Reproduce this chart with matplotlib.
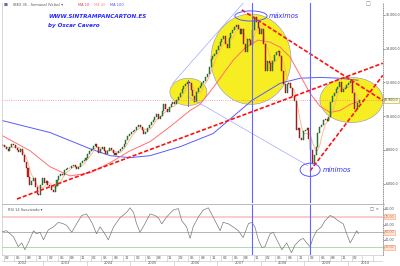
import matplotlib
matplotlib.use('Agg')
import matplotlib.pyplot as plt
from matplotlib.patches import Ellipse
from matplotlib.ticker import FuncFormatter
import numpy as np
import pandas as pd

# IBEX 35, closes every half month, 2002 .. March 2010
c2002 = [8300, 8200, 8050, 7950, 8150, 8350, 8300, 8100, 8000, 7850, 8050, 7700,
         7300, 6900, 6400, 5900, 6150, 6350, 5800, 5400, 5350, 5900, 6350, 6050]
c2003 = [6150, 5900, 5850, 5650, 5500, 5850, 6200, 6450, 6550, 6500, 6800, 6850,
         6950, 6900, 7050, 7100, 7000, 6850, 7000, 7250, 7350, 7400, 7550, 7730]
c2004 = [7950, 8050, 8250, 8350, 8200, 7800, 8050, 8150, 7950, 7750, 7950, 8100,
         8000, 7800, 7700, 7800, 7950, 8050, 8150, 8350, 8600, 8800, 8950, 9080]
c2005 = [9150, 9200, 9350, 9450, 9350, 9200, 8950, 9050, 9300, 9500, 9650, 9750,
         9950, 10100, 9850, 10000, 10300, 10700, 10450, 10250, 10550, 10700, 10850, 10730]
c2006 = [10950, 11150, 11400, 11600, 11800, 11900, 12050, 11950, 11550, 11200, 10850, 11450,
         11650, 11800, 11950, 12100, 12300, 12500, 12900, 13400, 13550, 13700, 13950, 14150]
c2007 = [14400, 14550, 14750, 14300, 14050, 14650, 14950, 15100, 15300, 15400, 15150, 14900,
         15150, 14300, 13800, 14600, 14500, 14250, 15100, 15900, 15600, 15250, 14900, 15180]
c2008 = [14300, 12700, 13300, 13150, 12700, 13250, 13600, 13800, 13850, 13550, 12700, 11900,
         11400, 11900, 11950, 11700, 11200, 10900, 9200, 9300, 8700, 8600, 9100, 9200]
c2009 = [9300, 8650, 8000, 7150, 7700, 8150, 9000, 9350, 9500, 9800, 9850, 9700,
         9950, 10850, 11200, 11400, 11600, 11750, 12050, 11450, 11600, 11650, 11850, 11940]
c2010 = [12100, 11350, 10400, 10450, 10800, 10950]
closes = np.array(c2002 + c2003 + c2004 + c2005 + c2006 + c2007 + c2008 + c2009 + c2010, float)

# slow moving averages
ma_red_t = [2002.05, 2002.69, 2003.15, 2003.61, 2004.07, 2004.53, 2004.99, 2005.45, 2005.91,
            2006.37, 2006.60, 2006.94, 2007.36, 2007.63, 2007.93, 2008.21, 2008.44, 2008.67,
            2008.90, 2009.13, 2009.36, 2009.59, 2009.82, 2010.05, 2010.23]
ma_red_v = [8850, 7950, 7000, 6460, 6640, 7240, 7950, 8490, 9380,
            10340, 10700, 11830, 13320, 14030, 14510, 14390, 14090, 13500,
            12420, 11350, 10580, 10220, 10340, 10700, 10870]
ma_blue_t = [2002.05, 2003.15, 2004.07, 2004.53, 2004.99, 2005.45, 2006.14, 2006.90,
             2007.79, 2008.44, 2008.90, 2009.36, 2009.82, 2010.23]
ma_blue_v = [9740, 9030, 8070, 7660, 7540, 7660, 8190, 8970,
             10930, 11950, 12250, 12300, 12250, 12130]

# RSI 14 suavizado
rsi_t = [2002.00, 2002.15, 2002.31, 2002.42, 2002.50, 2002.57, 2002.65, 2002.77, 2002.84, 2002.92,
         2003.00, 2003.11, 2003.23, 2003.34, 2003.46, 2003.53, 2003.65, 2003.76, 2003.88, 2003.99,
         2004.11, 2004.22, 2004.30, 2004.41, 2004.49, 2004.61, 2004.76, 2004.91, 2004.99,
         2005.07, 2005.14, 2005.22, 2005.33, 2005.45, 2005.56, 2005.64, 2005.72, 2005.83, 2005.98,
         2006.10, 2006.18, 2006.29, 2006.37, 2006.44, 2006.56, 2006.67, 2006.79, 2006.90,
         2007.06, 2007.13, 2007.25, 2007.36, 2007.48, 2007.59, 2007.71, 2007.79, 2007.86, 2007.94,
         2008.02, 2008.09, 2008.21, 2008.28, 2008.40, 2008.48, 2008.59, 2008.70, 2008.78, 2008.90, 2008.97,
         2009.05, 2009.13, 2009.20, 2009.28, 2009.39, 2009.47, 2009.59, 2009.66, 2009.78, 2009.89, 2009.97,
         2010.05, 2010.12, 2010.20, 2010.24]
rsi_v = [50, 52, 44, 31, 36, 27, 36, 52, 48, 50,
         40, 53, 57, 63, 61, 59, 50, 61, 72, 74,
         63, 48, 57, 48, 40, 57, 69, 76, 82,
         76, 61, 50, 61, 74, 72, 69, 61, 70, 79,
         81, 65, 57, 42, 57, 70, 79, 82, 70,
         52, 63, 61, 57, 52, 43, 61, 63, 57, 40,
         30, 31, 48, 50, 36, 27, 36, 23, 33, 40, 42,
         36, 31, 43, 52, 57, 65, 72, 70, 65, 61, 48,
         36, 43, 52, 48]

# drawn annotations (date, level)
trend_red = [((2002.39, 5090), (2010.80, 13140)),
             ((2007.56, 16300), (2010.80, 10930)),
             ((2009.13, 6760), (2010.80, 12420))]
trend_thin = [((2005.97, 11950), (2007.59, 16700)),
              ((2006.32, 11170), (2009.08, 7060))]
yellow = [(2006.33, 11440, 0.85, 1610), (2007.77, 13380, 1.84, 5360), (2010.08, 10960, 1.45, 2680)]
blue_rings = [(2007.77, 15940, 0.74, 600, 'máximos'), (2009.13, 6820, 0.46, 780, 'mínimos')]
vlines = [2007.79, 2009.13]
price_ticks = [6000, 8000, 10000, 12000, 14000, 16000]
rsi_levels = [80, 70, 60, 50, 40, 30]
months = ['02', '05', '08', '11']

t = 2002.06 + np.arange(len(closes)) / 24
opens = np.r_[closes[0], closes[:-1]]
ma_fast = pd.Series(closes).rolling(5, min_periods=1).mean()
xlim = (2002.046, 2010.805)


def es(v, nd=1):
    return f"{v:,.{nd}f}".replace(',', 'X').replace('.', ',').replace('X', '.')


fig = plt.figure(figsize=(4, 2.66), dpi=100)
ax = fig.add_axes([0.005, 0.237, 0.9525, 0.752])
ar = fig.add_axes([0.005, 0.041, 0.9525, 0.192])
ad = fig.add_axes([0.005, 0.0, 0.9525, 0.041])

for a in (ax, ar):
    a.set_xlim(*xlim)
    a.set_xticks([])
    a.yaxis.tick_right()
    for s in ('top', 'bottom'):
        a.spines[s].set_visible(False)
    a.spines['left'].set_color('#c8c8c8')
    a.spines['left'].set_linewidth(0.5)
    a.spines['right'].set_color('#888888')
    a.spines['right'].set_linestyle(':')
    a.spines['right'].set_linewidth(0.6)
    a.tick_params(axis='y', length=1.2, width=0.4, pad=0.6, labelsize=2.3, colors='#444444')

ax.set_ylim(4855, 16715)
ax.set_yticks(price_ticks)
ax.yaxis.set_major_formatter(FuncFormatter(lambda v, p: es(v)))

for cx, cy, w, h in yellow:
    ax.add_patch(Ellipse((cx, cy), w, h, facecolor='#f6ee22', edgecolor='#9090c0', lw=0.4, zorder=1))

ax.axhline(closes[-1], color='#ff8080', ls=':', lw=0.6, zorder=1.5)
ax.plot(ma_blue_t, ma_blue_v, color='#5a5aff', lw=0.7, zorder=2)
ax.plot(ma_red_t, ma_red_v, color='#ff7070', lw=0.7, zorder=2)
ax.plot(t, ma_fast, color='#ffb080', lw=0.6, zorder=2)

up = closes >= opens
ax.bar(t, closes - opens, bottom=opens, width=0.024, zorder=3,
       color=np.where(up, '#2a9a3a', '#d02020'), edgecolor=np.where(up, '#1a4a20', '#701010'), linewidth=0.3)

for (x0, y0), (x1, y1) in trend_thin:
    ax.plot([x0, x1], [y0, y1], color='#a0a8ff', lw=0.5, zorder=4)
for (x0, y0), (x1, y1) in trend_red:
    ax.plot([x0, x1], [y0, y1], color='#ff1010', lw=1.2, ls=(0, (2.5, 1.2)), zorder=4)

for v in vlines:
    ax.axvline(v, color='#6464ff', lw=0.8, zorder=4)
    ar.axvline(v, color='#6464ff', lw=0.8, zorder=4)
ax.plot([2006.32, 2006.32], [10580, 12130], color='#6464ff', lw=0.7, zorder=4)

for cx, cy, w, h, lab in blue_rings:
    ax.add_patch(Ellipse((cx, cy), w, h, facecolor='none', edgecolor='#5a5aff', lw=0.7, zorder=5))
    ax.text(cx + w / 2 + 0.05, cy, lab, color='#2a2aff', fontsize=4.8, style='italic',
            va='center', ha='left', zorder=5)

ax.text(1.003, closes[-1], es(closes[-1]), transform=ax.get_yaxis_transform(), fontsize=2.3,
        va='center', ha='left', color='#444444',
        bbox=dict(boxstyle='square,pad=0.2', fc='#ffffd0', ec='#b0a060', lw=0.4))

fig.text(0.12, 1 - 17 / 266, 'WWW.SINTRAMPANCARTON.ES', color='#2a2aff', fontsize=4.1,
         weight='bold', style='italic', va='center', ha='left')
fig.text(0.12, 1 - 25 / 266, 'by Oscar Cavero', color='#2a2aff', fontsize=4.1,
         weight='bold', style='italic', va='center', ha='left')
fig.text(0.008, 1 - 5 / 266, '■', color='#6070a0', fontsize=3, va='center')
fig.text(0.032, 1 - 5 / 266, 'IBEX 35 - Semanal (Velas) ▾', color='#555555', fontsize=2.6, va='center')
fig.text(0.195, 1 - 5 / 266, 'MA 10', color='#e04040', fontsize=2.6, va='center')
fig.text(0.235, 1 - 5 / 266, 'MA 40', color='#ff9090', fontsize=2.6, va='center')
fig.text(0.275, 1 - 5 / 266, 'MA 100', color='#5050ff', fontsize=2.6, va='center')
fig.text(0.913, 1 - 4 / 266, '□', color='#777777', fontsize=3.5, va='center')

# RSI panel
ar.set_ylim(20, 87)
ar.set_yticks(rsi_levels)
ar.set_yticklabels([])
ar.axhline(70, color='#f8c4c4', lw=1.2)
ar.axhline(50, color='#a8a8a8', lw=0.6)
ar.axhline(30, color='#a8d0a8', lw=0.6)
ar.plot(rsi_t, rsi_v, color='#7a7a7a', lw=0.5, zorder=3)
for lv in rsi_levels:
    boxed = lv in (70, 50, 30)
    ar.text(1.004, lv, es(lv, 2), transform=ar.get_yaxis_transform(), fontsize=2.4, va='center',
            ha='left', color='#e07040' if boxed else '#555555',
            bbox=dict(boxstyle='square,pad=0.15', fc='#fde4d4', ec='#f0a080', lw=0.4) if boxed else None)
ar.text(0.015, 0.93, 'RSI 14 Suavizado ▾', transform=ar.transAxes, fontsize=2.6, color='#555555', va='top')
ar.text(0.965, 0.93, '□ ×', transform=ar.transAxes, fontsize=3.2, color='#666666', va='top')
fig.add_artist(plt.Line2D([0.005, 0.96], [0.234, 0.234], color='#b0b0b0', lw=0.6))

# date rows
ad.set_xlim(*xlim)
ad.set_ylim(0, 2)
ad.axis('off')
g = '#c0c0c0'
ad.plot(xlim, [1, 1], color=g, lw=0.4)
ad.plot(xlim, [2, 2], color=g, lw=0.4)
for yr in range(2002, 2011):
    for m, lab in zip([2, 5, 8, 11], months):
        xm = yr + (m - 1) / 12
        if xm > xlim[1]:
            continue
        ad.plot([xm, xm], [1, 2], color=g, lw=0.4)
        if yr < 2010 or m == 2:
            ad.text(xm + 0.03, 1.5, lab, fontsize=2.6, color='#555555', va='center', ha='left')
    if yr > xlim[0]:
        ad.plot([yr, yr], [0, 1], color=g, lw=0.4)
    lo, hi = max(yr, xlim[0]), min(yr + 1, xlim[1])
    ad.text((lo + hi) / 2, 0.5, str(yr), fontsize=2.6, color='#555555', va='center', ha='center')

fig.savefig('out.png', dpi=100)
